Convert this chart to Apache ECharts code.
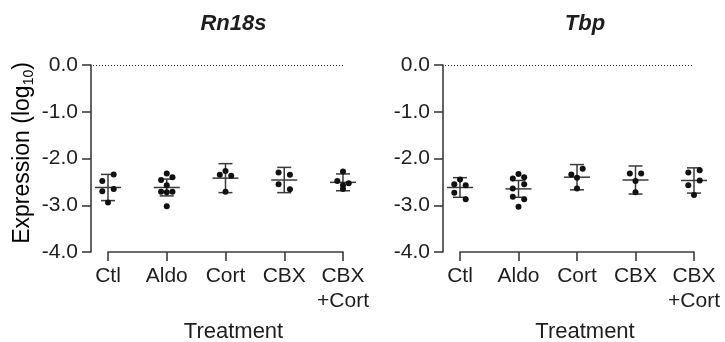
<!DOCTYPE html>
<html lang="en" style="height: 100%">

<head>
  <meta charset="utf-8">
</head>

<body style="height: 100%; margin: 0">
  <div id="container" style="width: 725px; height: 342px"></div>

  <script type="text/javascript" src="https://cdn.jsdelivr.net/npm/echarts@6.0.0/dist/echarts.min.js"></script>

  <script type="text/javascript">
    // ---- data (log10 expression) ----
    var categories = ['Ctl', 'Aldo', 'Cort', 'CBX', 'CBX\n+Cort'];
    var panelTitles = ['Rn18s', 'Tbp'];

    // replicate values per treatment
    var rn18sPoints = [
      [-2.34, -2.48, -2.65, -2.70, -2.94],
      [-2.32, -2.40, -2.46, -2.57, -2.71, -2.71, -2.72, -3.02],
      [-2.27, -2.37, -2.35, -2.71],
      [-2.35, -2.30, -2.66, -2.55],
      [-2.28, -2.57, -2.53, -2.48, -2.65]
    ];
    var rn18sMean = [-2.62, -2.62, -2.42, -2.46, -2.51];
    var rn18sErr = [0.28, 0.18, 0.31, 0.27, 0.18];

    var tbpPoints = [
      [-2.45, -2.57, -2.55, -2.87, -2.73],
      [-2.33, -2.40, -2.43, -2.55, -2.64, -2.87, -2.82, -3.03],
      [-2.22, -2.34, -2.41, -2.64],
      [-2.32, -2.32, -2.48, -2.72],
      [-2.25, -2.30, -2.47, -2.57, -2.78]
    ];
    var tbpMean = [-2.62, -2.65, -2.40, -2.46, -2.47];
    var tbpErr = [0.21, 0.18, 0.27, 0.30, 0.27];

    var yMin = -4, yMax = 0, yStep = 1;
    var refValue = 0;

    // ---- layout ----
    var grids = [
      { left: 108, top: 65, width: 235, height: 187, outerBoundsMode: 'none' },
      { left: 460, top: 65, width: 234, height: 187, outerBoundsMode: 'none' }
    ];
    var Y_OFFSET = 17;       // y axis sits left of the first category
    var SLOT_PX = 5.7;       // horizontal spacing of scattered replicates
    var ROW_PX = 6.8;        // replicates closer than this share a row
    var MEAN_HALF = 13;
    var CAP_HALF = 7;
    var FONT = '"Liberation Sans", Arial, sans-serif';
    var INK = '#1e1e1e';
    var AXIS = '#3c3c3c';

    // Prism-like row scatter: close values share a row and spread sideways
    function rowOffsets(vals, tol) {
      var order = vals.map(function (v, i) { return i; })
        .sort(function (a, b) { return vals[b] - vals[a] || a - b; });
      var off = vals.map(function () { return 0; });
      var i = 0;
      while (i < order.length) {
        var anchor = vals[order[i]];
        var row = [];
        var j = i;
        while (j < order.length && anchor - vals[order[j]] < tol) {
          row.push(order[j]);
          j++;
        }
        row.sort(function (a, b) { return a - b; });
        var slots = row.length % 2 ? [0, 1, -1, 2, -2, 3, -3] : [1, -1, 2, -2, 3, -3];
        row.forEach(function (k, m) { off[k] = slots[m]; });
        i = j;
      }
      return off;
    }

    function scatterData(points, grid) {
      var catPx = grid.width / (categories.length - 1);
      var pxPerUnit = grid.height / (yMax - yMin);
      var data = [];
      points.forEach(function (vals, c) {
        var off = rowOffsets(vals, ROW_PX / pxPerUnit);
        vals.forEach(function (v, k) {
          data.push([c + off[k] * SLOT_PX / catPx, v]);
        });
      });
      return data;
    }

    function renderRef(params, api) {
      var cs = params.coordSys;
      var y = Math.round(api.coord([0, api.value(1)])[1]) + 0.5;
      return {
        type: 'line',
        shape: { x1: cs.x - Y_OFFSET + 2, y1: y, x2: cs.x + cs.width, y2: y },
        style: { stroke: '#333', lineWidth: 1, lineDash: [1, 2] }
      };
    }

    function renderErr(params, api) {
      var x = api.value(0), m = api.value(1), e = api.value(2);
      var c = api.coord([x, m]);
      var t = api.coord([x, m + e]);
      var b = api.coord([x, m - e]);
      var st = { stroke: '#3a3a3a', lineWidth: 1.5 };
      return {
        type: 'group',
        children: [
          { type: 'line', shape: { x1: c[0] - MEAN_HALF, y1: c[1], x2: c[0] + MEAN_HALF, y2: c[1] }, style: st },
          { type: 'line', shape: { x1: t[0], y1: t[1], x2: b[0], y2: b[1] }, style: st },
          { type: 'line', shape: { x1: t[0] - CAP_HALF, y1: t[1], x2: t[0] + CAP_HALF, y2: t[1] }, style: st },
          { type: 'line', shape: { x1: b[0] - CAP_HALF, y1: b[1], x2: b[0] + CAP_HALF, y2: b[1] }, style: st }
        ]
      };
    }

    var panels = [
      { points: rn18sPoints, mean: rn18sMean, err: rn18sErr },
      { points: tbpPoints, mean: tbpMean, err: tbpErr }
    ];

    var xAxes = [], yAxes = [], series = [], graphics = [];
    panels.forEach(function (p, i) {
      var g = grids[i];
      xAxes.push({
        gridIndex: i,
        type: 'value',
        min: 0,
        max: categories.length - 1,
        interval: 1,
        name: 'Treatment',
        nameLocation: 'middle',
        nameGap: 69,
        nameTextStyle: { fontFamily: FONT, fontSize: 22, color: INK, padding: [0, 0, 0, 16] },
        axisLine: { show: true, onZero: false, lineStyle: { color: AXIS, width: 1.6 } },
        axisTick: { show: true, length: 9, lineStyle: { color: AXIS, width: 1.6 } },
        axisLabel: {
          margin: 12,
          fontFamily: FONT,
          fontSize: 21,
          lineHeight: 25,
          color: INK,
          formatter: function (v) { return categories[Math.round(v)]; }
        },
        splitLine: { show: false }
      });
      yAxes.push({
        gridIndex: i,
        type: 'value',
        min: yMin,
        max: yMax,
        interval: yStep,
        offset: Y_OFFSET,
        axisLine: { show: true, onZero: false, lineStyle: { color: AXIS, width: 1.6 } },
        axisTick: { show: true, length: 9, lineStyle: { color: AXIS, width: 1.6 } },
        axisLabel: {
          margin: 13,
          fontFamily: FONT,
          fontSize: 21,
          color: INK,
          formatter: function (v) { return v.toFixed(1); }
        },
        splitLine: { show: false }
      });
      series.push({
        type: 'custom',
        xAxisIndex: i,
        yAxisIndex: i,
        clip: false,
        silent: true,
        z: 1,
        renderItem: renderRef,
        data: [[0, refValue]]
      });
      series.push({
        type: 'custom',
        xAxisIndex: i,
        yAxisIndex: i,
        clip: false,
        silent: true,
        z: 2,
        renderItem: renderErr,
        encode: { x: 0, y: 1 },
        data: p.mean.map(function (m, c) { return [c, m, p.err[c]]; })
      });
      series.push({
        type: 'scatter',
        xAxisIndex: i,
        yAxisIndex: i,
        clip: false,
        z: 3,
        symbolSize: 6,
        itemStyle: { color: '#111', opacity: 1 },
        data: scatterData(p.points, g)
      });
      graphics.push({
        type: 'text',
        x: g.left + g.width / 2 + 8,
        y: 24,
        style: {
          text: panelTitles[i],
          align: 'center',
          verticalAlign: 'middle',
          font: 'italic bold 22px ' + FONT,
          fill: INK
        }
      });
    });

    graphics.push({
      type: 'text',
      x: 23,
      y: 153,
      rotation: Math.PI / 2,
      style: {
        text: '{a|Expression (log}{s|10}{a|)}',
        align: 'center',
        verticalAlign: 'middle',
        rich: {
          a: { fontFamily: FONT, fontSize: 23, lineHeight: 26, color: INK },
          s: { fontFamily: FONT, fontSize: 14, lineHeight: 11, verticalAlign: 'bottom', color: INK }
        }
      }
    });

    var dom = document.getElementById('container');
    var myChart = echarts.init(dom, null, { renderer: 'canvas' });
    var option = {
      animation: false,
      backgroundColor: '#fff',
      grid: grids,
      xAxis: xAxes,
      yAxis: yAxes,
      graphic: graphics,
      series: series
    };
    myChart.setOption(option);

    window.addEventListener('resize', myChart.resize);
  </script>
</body>

</html>
